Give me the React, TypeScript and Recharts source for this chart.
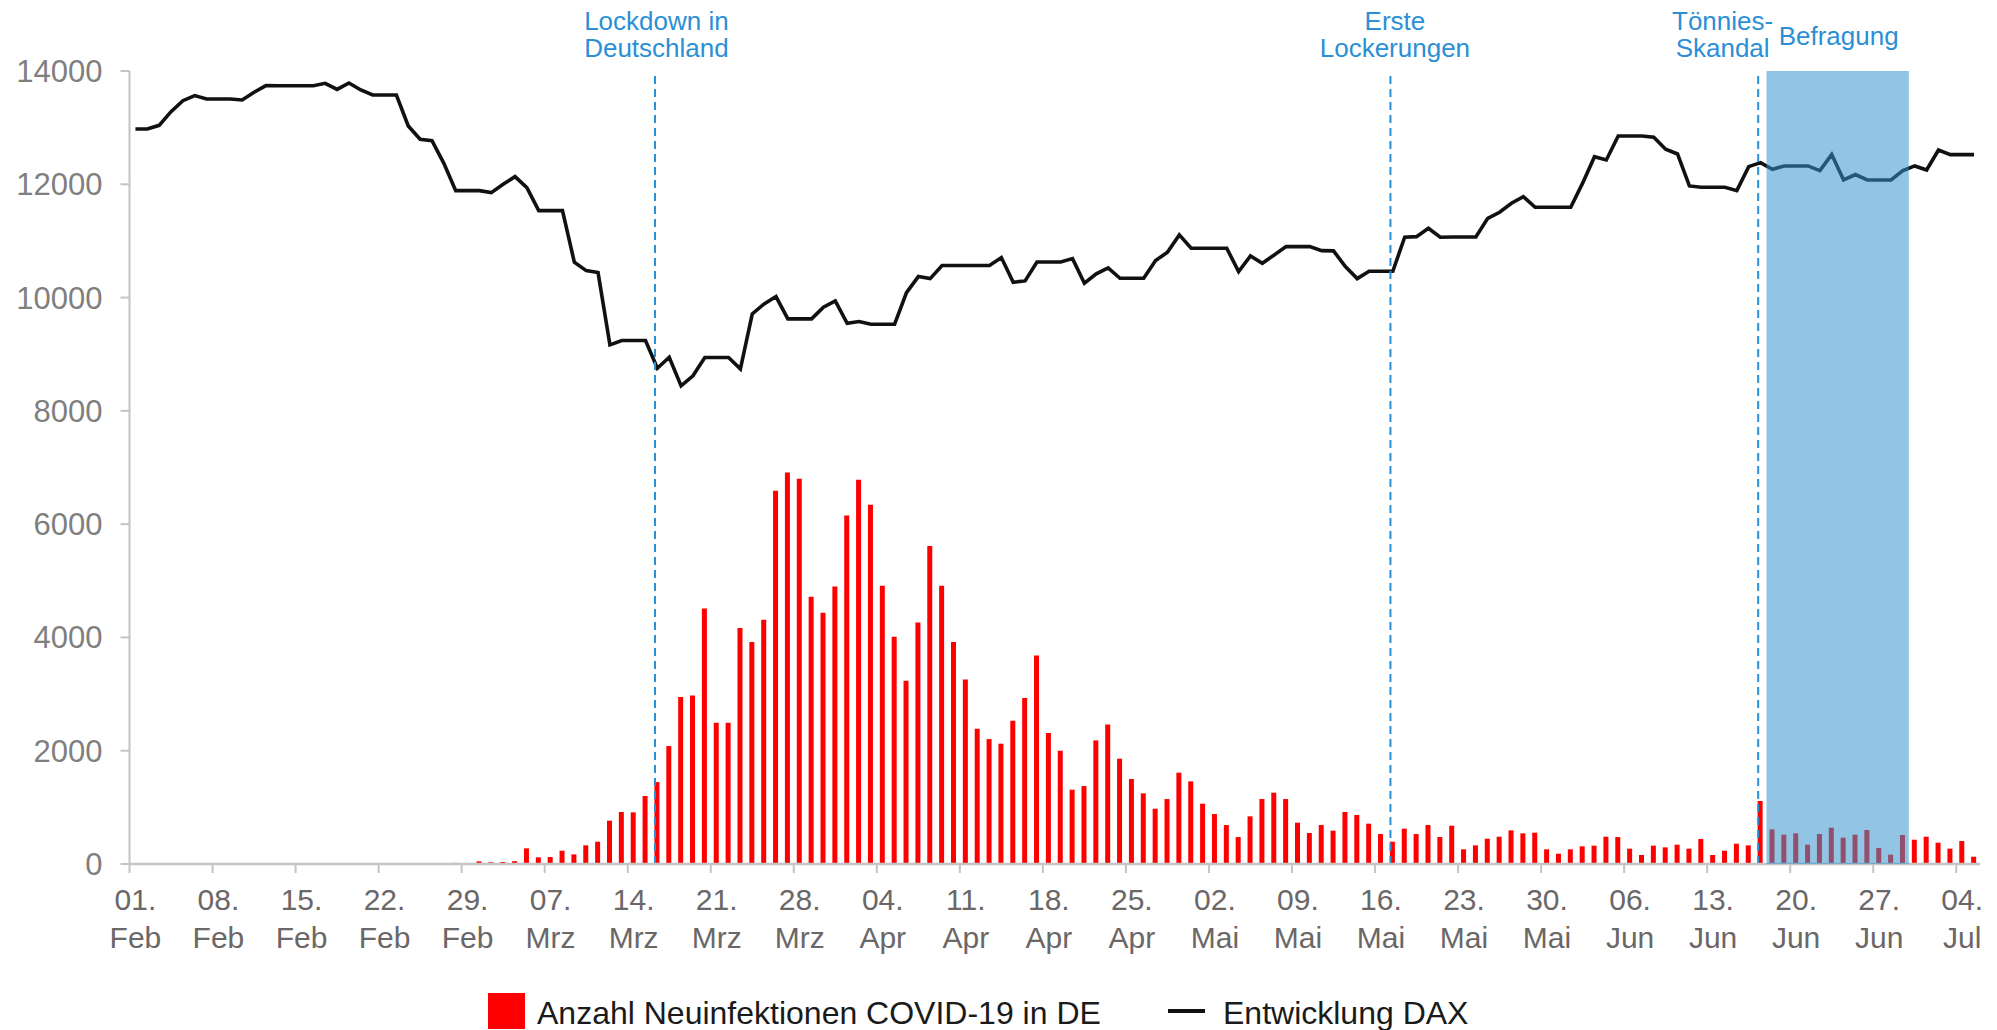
import React from 'react';
import {
  ComposedChart,
  Bar,
  Line,
  XAxis,
  YAxis,
  ReferenceLine,
  ReferenceArea,
  Legend,
} from 'recharts';

// ---- categories (one per calendar day, 01. Feb – 05. Jul 2020) ----
const MONTH_NAMES = ['Feb', 'Mrz', 'Apr', 'Mai', 'Jun', 'Jul'];
const MONTH_DAYS = [29, 31, 30, 31, 30, 5];

// ---- weekly tick labels ----
const TICK_DATES = [
  '01. Feb', '08. Feb', '15. Feb', '22. Feb', '29. Feb',
  '07. Mrz', '14. Mrz', '21. Mrz', '28. Mrz',
  '04. Apr', '11. Apr', '18. Apr', '25. Apr',
  '02. Mai', '09. Mai', '16. Mai', '23. Mai', '30. Mai',
  '06. Jun', '13. Jun', '20. Jun', '27. Jun', '04. Jul',
];
const Y_TICKS = [0, 2000, 4000, 6000, 8000, 10000, 12000, 14000];

// ---- new COVID-19 infections in Germany, per day ----
const COVID_FEB = [
  0, 0, 0, 0, 0, 0, 0, 0, 0, 0, 0, 0, 0, 0, 0, 0, 0, 0, 0, 0, 0, 0, 0, 0,
  2, 6, 10, 20, 12,
];
const COVID_MAR = [
  47, 30, 35, 50, 276, 118, 124, 235, 170, 330, 394, 765, 918, 912, 1200, 1447,
  2082, 2947, 2976, 4512, 2494, 2494, 4165, 3918, 4312, 6588, 6912, 6800, 4718,
  4435, 4900,
];
const COVID_APR = [
  6153, 6782, 6341, 4912, 4012, 3235, 4265, 5612, 4912, 3918, 3259, 2388, 2206,
  2124, 2529, 2929, 3682, 2312, 2000, 1312, 1376, 2182, 2465, 1859, 1500, 1247,
  976, 1147, 1612, 1459,
];
const COVID_MAY = [
  1065, 882, 688, 476, 841, 1147, 1259, 1147, 729, 547, 688, 588, 918, 865, 712,
  529, 394, 624, 529, 688, 476, 676, 259, 329, 447, 482, 594, 541, 553, 259, 182,
];
const COVID_JUN = [
  259, 312, 324, 482, 476, 271, 159, 324, 294, 341, 271, 441, 159, 235, 359, 329,
  1112, 612, 518, 541, 341, 529, 641, 465, 518, 600, 282, 165, 512, 429,
];
const COVID_JUL = [482, 376, 271, 406, 129];

// ---- DAX closing level, per day ----
const DAX_FEB = [
  12976, 12976, 13041, 13282, 13476, 13565, 13506, 13506, 13506, 13488, 13624,
  13741, 13740, 13740, 13740, 13740, 13782, 13676, 13788, 13665, 13576, 13576,
  13576, 13030, 12794, 12770, 12370, 11888, 11888,
];
const DAX_MAR = [
  11888, 11853, 12000, 12135, 11941, 11535, 11535, 11535, 10624, 10476, 10441,
  9165, 9241, 9241, 9241, 8753, 8947, 8441, 8618, 8941, 8941, 8941, 8741, 9712,
  9888, 10018, 9624, 9624, 9624, 9829, 9941,
];
const DAX_APR = [
  9547, 9576, 9529, 9529, 9529, 10088, 10371, 10335, 10565, 10565, 10565, 10565,
  10565, 10706, 10271, 10294, 10629, 10629, 10629, 10688, 10253, 10418, 10524,
  10341, 10341, 10341, 10653, 10800, 11106, 10871,
];
const DAX_MAY = [
  10871, 10871, 10871, 10459, 10735, 10606, 10753, 10900, 10900, 10900, 10829,
  10825, 10547, 10335, 10465, 10465, 10465, 11065, 11076, 11224, 11065, 11070,
  11070, 11070, 11400, 11506, 11665, 11782, 11594, 11594, 11594,
];
const DAX_JUN = [
  11594, 12020, 12488, 12429, 12853, 12853, 12853, 12829, 12618, 12535, 11971,
  11947, 11947, 11947, 11888, 12312, 12382, 12265, 12324, 12324, 12324, 12241,
  12524, 12076, 12171, 12076, 12076, 12076, 12241, 12324,
];
const DAX_JUL = [12253, 12606, 12524, 12524, 12524];

// ---- events ----
const EVENT_LOCKDOWN = '16. Mrz';
const EVENT_LOCKERUNG = '17. Mai';
const EVENT_TOENNIES = '17. Jun';
const SURVEY_START = '18. Jun';
const SURVEY_END = '29. Jun';

// ---- build table ----
const CATEGORIES: string[] = [];
MONTH_NAMES.forEach((m, i) => {
  for (let d = 1; d <= MONTH_DAYS[i]; d++) {
    CATEGORIES.push(`${d < 10 ? '0' + d : d}. ${m}`);
  }
});
const COVID = [...COVID_FEB, ...COVID_MAR, ...COVID_APR, ...COVID_MAY, ...COVID_JUN, ...COVID_JUL];
const DAX = [...DAX_FEB, ...DAX_MAR, ...DAX_APR, ...DAX_MAY, ...DAX_JUN, ...DAX_JUL];
const DATA = CATEGORIES.map((date, i) => ({ date, covid: COVID[i], dax: DAX[i] }));

const FONT = '"Liberation Sans", Arial, Helvetica, sans-serif';
const BLUE = '#2b8fd6';
const AXIS_GRAY = '#c4c4c4';
const W = 1997;
const H = 1030;
const PLOT_LEFT = 129.5;
const PLOT_RIGHT_MARGIN = 17;
const BAND = (W - PLOT_LEFT - PLOT_RIGHT_MARGIN) / CATEGORIES.length;

const XTick = (props: any) => {
  const { x, y, payload } = props;
  const half = payload && payload.offset ? payload.offset : BAND / 2;
  const [day, mon] = String(payload.value).split(' ');
  return (
    <g>
      <line x1={x - half} x2={x - half} y1={y} y2={y + 9} stroke={AXIS_GRAY} strokeWidth={2} />
      <text x={x} y={y + 46} textAnchor="middle" fill="#6b6767" fontSize={30} fontFamily={FONT}>
        {day}
      </text>
      <text x={x} y={y + 84} textAnchor="middle" fill="#6b6767" fontSize={30} fontFamily={FONT}>
        {mon}
      </text>
    </g>
  );
};

const EventLine = (p: any) => (
  <line
    x1={p.x1 + BAND * 0.3}
    x2={p.x2 + BAND * 0.3}
    y1={p.y1}
    y2={p.y2}
    stroke={BLUE}
    strokeWidth={2}
    strokeDasharray="8 5"
  />
);

const annotation = (lines: string[], dx: number, baseOffsets: number[]) => (props: any) => {
  const vb = props.viewBox || {};
  const cx = (vb.x || 0) + (vb.width || 0) / 2 + dx;
  const top = vb.y || 0;
  return (
    <g>
      {lines.map((t, i) => (
        <text
          key={i}
          x={cx}
          y={top - baseOffsets[i]}
          textAnchor="middle"
          fill={BLUE}
          fontSize={26}
          fontFamily={FONT}
        >
          {t}
        </text>
      ))}
    </g>
  );
};

const LegendContent = () => (
  <svg width={W} height={44} style={{ display: 'block' }}>
    <rect x={488} y={7} width={37} height={36} fill="#ff0000" />
    <text x={537} y={38} fontSize={32} fill="#1a1a1a" fontFamily={FONT}>
      Anzahl Neuinfektionen COVID-19 in DE
    </text>
    <line x1={1168} x2={1205} y1={25} y2={25} stroke="#111111" strokeWidth={4} />
    <text x={1223} y={38} fontSize={32} fill="#1a1a1a" fontFamily={FONT}>
      Entwicklung DAX
    </text>
  </svg>
);

export default function App() {
  return (
    <div style={{ width: W, height: H, margin: '-8px 0 0 -8px', fontFamily: FONT }}>
      <ComposedChart
        width={W}
        height={H}
        data={DATA}
        margin={{ top: 71, right: PLOT_RIGHT_MARGIN, bottom: 66, left: 0 }}
        barCategoryGap={0}
        style={{ fontFamily: FONT }}
      >
        <XAxis
          dataKey="date"
          type="category"
          ticks={TICK_DATES}
          interval={0}
          tick={<XTick />}
          tickLine={false}
          tickSize={0}
          tickMargin={0}
          height={100}
          axisLine={{ stroke: AXIS_GRAY, strokeWidth: 2.5 }}
        />
        <YAxis
          type="number"
          domain={[0, 14000]}
          ticks={Y_TICKS}
          interval={0}
          width={PLOT_LEFT}
          tickSize={9}
          tickMargin={18}
          tick={{ fill: '#7f7f7f', fontSize: 31, fontFamily: FONT }}
          tickLine={{ stroke: AXIS_GRAY, strokeWidth: 2 }}
          axisLine={{ stroke: AXIS_GRAY, strokeWidth: 2 }}
          allowDataOverflow
        />
        <Bar dataKey="covid" fill="#ff0000" barSize={5} isAnimationActive={false} />
        <Line
          dataKey="dax"
          type="linear"
          stroke="#111111"
          strokeWidth={3.6}
          dot={false}
          activeDot={false}
          isAnimationActive={false}
        />
        <ReferenceLine
          x={EVENT_LOCKDOWN}
          position="start"
          stroke={BLUE}
          shape={EventLine}
          label={annotation(['Lockdown in', 'Deutschland'], 5, [41, 14])}
        />
        <ReferenceLine
          x={EVENT_LOCKERUNG}
          position="start"
          stroke={BLUE}
          shape={EventLine}
          label={annotation(['Erste', 'Lockerungen'], 8, [41, 14])}
        />
        <ReferenceLine
          x={EVENT_TOENNIES}
          position="start"
          stroke={BLUE}
          shape={EventLine}
          label={annotation(['Tönnies-', 'Skandal'], -32, [41, 14])}
        />
        <ReferenceArea
          x1={SURVEY_START}
          x2={SURVEY_END}
          fill="#3692cc"
          fillOpacity={0.54}
          stroke="none"
          {...({ zIndex: 1500 } as any)}
          label={annotation(['Befragung'], 1, [26])}
        />
        <Legend
          verticalAlign="middle"
          align="center"
          layout="horizontal"
          wrapperStyle={{ position: 'absolute', left: 0, top: 986, width: W, height: 44 }}
          content={() => <LegendContent />}
        />
      </ComposedChart>
    </div>
  );
}
